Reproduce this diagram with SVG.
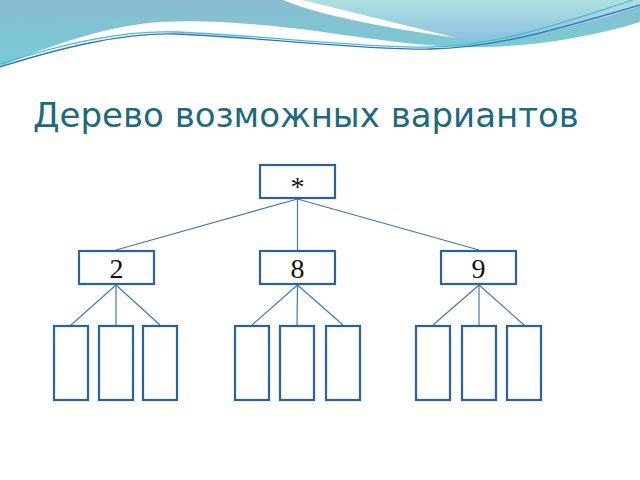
<svg xmlns="http://www.w3.org/2000/svg" width="640" height="480" viewBox="0 0 640 480">
<defs>
<linearGradient id="gA" x1="0" y1="0" x2="0.15" y2="1">
<stop offset="0" stop-color="#8ABBCF"/>
<stop offset="1" stop-color="#77CDD6"/>
</linearGradient>
<linearGradient id="gB" x1="0" y1="0" x2="0" y2="1">
<stop offset="0" stop-color="#AEE0E0"/>
<stop offset="1" stop-color="#8DBFE0"/>
</linearGradient>
<style>
.box{fill:#FFFFFF;stroke:#2862A2;stroke-width:2.2}
.lbl{font-family:"Liberation Serif","DejaVu Serif",serif;font-size:28px;fill:#111111;text-anchor:middle}
.edge{stroke:#3F79B6;stroke-width:1.2;fill:none}
</style>
</defs>
<rect width="640" height="480" fill="#FFFFFF"/>
<g id="decor">
<path d="M0,0 H640 V22 C605,33 545,46 485,47 C440,48 400,43 330,33 C280,26 215,19 160,22 C110,25 50,45 0,67 Z" fill="url(#gA)"/>
<path d="M303,0 H640 V6 C600,20 540,38 470,41 L457,38 Z" fill="url(#gB)"/>
<path d="M283,0 L303,0 L457,38 Q330,20 283,0 Z" fill="#FFFFFF"/>
<path d="M0,64 C60,45 120,30 175,32 C260,35 360,48 430,47 C500,46 570,20 633,0" fill="none" stroke="#3FC4CC" stroke-width="1.3"/>
<path d="M0,67 C60,48 120,33 175,34 C260,37 360,50 430,49 C500,48 570,25 640,5" fill="none" stroke="#3A6DC8" stroke-width="1.3"/>
</g>
<text x="33" y="127" font-family="'DejaVu Sans','Noto Sans',sans-serif" font-size="34" fill="#1B6A80">Дерево возможных вариантов</text>
<g id="connectors">
<line class="edge" x1="297.5" y1="199" x2="116" y2="250"/>
<line class="edge" x1="297.5" y1="199" x2="297.5" y2="250"/>
<line class="edge" x1="297.5" y1="199" x2="479" y2="250"/>
<line class="edge" x1="116" y1="285" x2="71" y2="325"/>
<line class="edge" x1="116" y1="285" x2="116" y2="325"/>
<line class="edge" x1="116" y1="285" x2="160" y2="325"/>
<line class="edge" x1="297.5" y1="285" x2="252" y2="325"/>
<line class="edge" x1="297.5" y1="285" x2="297" y2="325"/>
<line class="edge" x1="297.5" y1="285" x2="343" y2="325"/>
<line class="edge" x1="479" y1="285" x2="433" y2="325"/>
<line class="edge" x1="479" y1="285" x2="479" y2="325"/>
<line class="edge" x1="479" y1="285" x2="524" y2="325"/>
</g>
<g id="root"><rect class="box" x="260" y="165" width="75" height="33"/><text class="lbl" x="297.5" y="196">*</text></g>
<g id="n2"><rect class="box" x="79" y="251" width="75" height="33"/><text class="lbl" x="116.5" y="278">2</text></g>
<g id="n8"><rect class="box" x="260" y="251" width="75" height="33"/><text class="lbl" x="297.5" y="278">8</text></g>
<g id="n9"><rect class="box" x="441" y="251" width="75" height="33"/><text class="lbl" x="478.5" y="278">9</text></g>
<g id="l1"><rect class="box" x="54" y="326" width="34" height="74"/></g>
<g id="l2"><rect class="box" x="99" y="326" width="34" height="74"/></g>
<g id="l3"><rect class="box" x="143" y="326" width="34" height="74"/></g>
<g id="l4"><rect class="box" x="235" y="326" width="34" height="74"/></g>
<g id="l5"><rect class="box" x="280" y="326" width="34" height="74"/></g>
<g id="l6"><rect class="box" x="326" y="326" width="34" height="74"/></g>
<g id="l7"><rect class="box" x="416" y="326" width="34" height="74"/></g>
<g id="l8"><rect class="box" x="462" y="326" width="34" height="74"/></g>
<g id="l9"><rect class="box" x="507" y="326" width="34" height="74"/></g>
</svg>
